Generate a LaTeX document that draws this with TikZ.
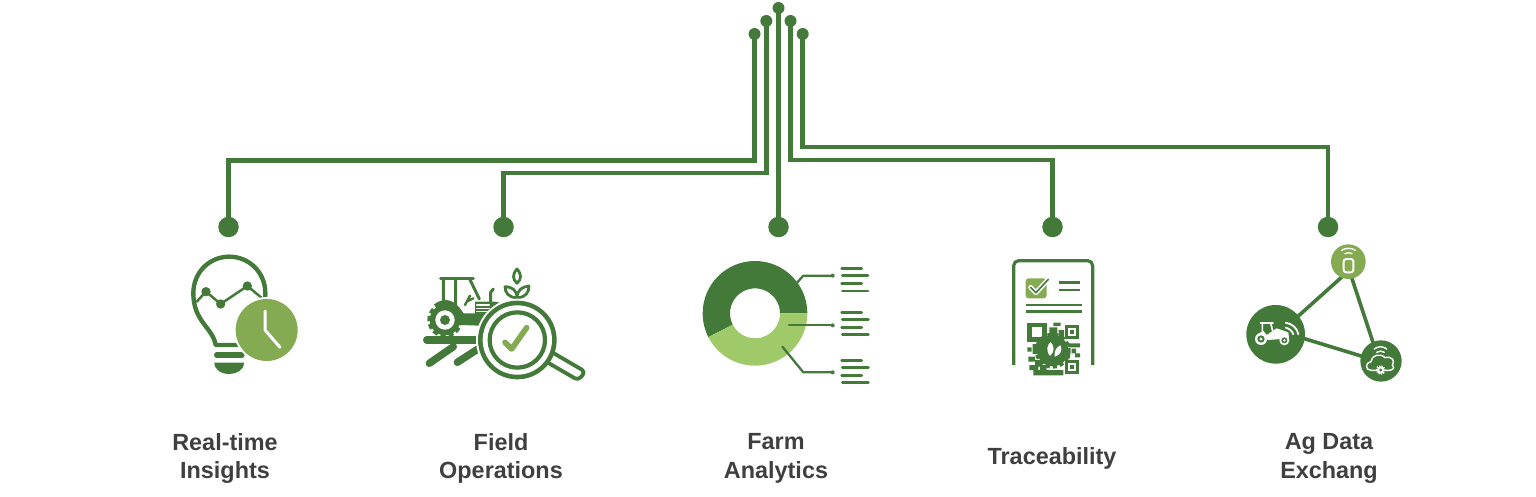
\documentclass[tikz,border=0pt]{standalone}
\usepackage{fontspec}
\setmainfont{Liberation Sans}
\definecolor{gd}{HTML}{437A3A}
\definecolor{gm}{HTML}{84AB52}
\definecolor{gl}{HTML}{A0C96A}
\definecolor{tx}{HTML}{3F3F3F}
\tikzset{
 wire/.style={draw=gd,line width=4.8pt},
 tdot/.style={circle,fill=gd,inner sep=0pt,minimum size=12pt},
 bdot/.style={circle,fill=gd,inner sep=0pt,minimum size=20.5pt},
 lab/.style={font=\bfseries\fontsize{23.4}{28.5}\selectfont,text=tx,align=center},
 zm/.style 2 args={shift={(#1,#2)},x=0.33333pt,y=-0.33333pt},
 ln/.style={draw=gd,line width=#1,line cap=round,line join=round},
 wl/.style={draw=white,line width=#1,line cap=round,line join=round},
}
\begin{document}
\begin{tikzpicture}[x=1pt,y=-1pt]
\useasboundingbox (0,0) rectangle (1536,497);
% hub dots and end dots
\node[tdot] (t1) at (754.5,34) {};
\node[tdot] (t2) at (766.3,21) {};
\node[tdot] (t3) at (778.5,8) {};
\node[tdot] (t4) at (790.5,21) {};
\node[tdot] (t5) at (802.7,34) {};
\node[bdot] (b1) at (228.5,227) {};
\node[bdot] (b2) at (503.5,227) {};
\node[bdot] (b3) at (778.5,227) {};
\node[bdot] (b4) at (1052.5,227) {};
\node[bdot] (b5) at (1328,227) {};
\coordinate (k1) at (754.5,160.5);
\coordinate (k2) at (766.3,173);
\coordinate (k4) at (790.5,160);
\coordinate (k5) at (802.7,147);
\draw[wire] (t1.center) -- (k1) -| (b1.center);
\draw[wire] (t2.center) -- (k2) -| (b2.center);
\draw[wire] (t3.center) -- (b3.center);
\draw[wire] (t4.center) -- (k4) -| (b4.center);
\draw[wire] (t5.center) -- (k5) -| (b5.center);
% labels
\node[lab] (l1) at (225,458.5) {Real-time\\Insights};
\node[lab] (l2) at (501,458.5) {Field\\Operations};
\node[lab] (l3) at (776,458.5) {Farm\\Analytics};
\node[lab] (l4) at (1052,458) {Traceability};
\node[lab] (l5) at (1329,458.5) {Ag Data\\Exchang};
% bulb
\begin{scope}[zm={170}{240}]
\draw[ln=4.4pt] (137,315) .. controls (128,262) and (70,245) .. (70,160) .. controls (70,95) and (120,50) .. (178,50) .. controls (235,50) and (286,95) .. (286,160) .. controls (286,245) and (228,262) .. (220,315) -- cycle;
\draw[ln=2.5pt] (80,185) -- (108,155) -- (152,192) -- (232,138) -- (285,182);
\fill[gd] (108,155) circle (14) (152,192) circle (14) (232,138) circle (14);
\draw[ln=5.4pt] (140,345) -- (216,345);
\fill[gd] (133,368) -- (222,368) .. controls (222,390) and (200,402) .. (178,402) .. controls (155,402) and (133,390) .. (133,368) -- cycle;
\fill[white] (290,270) circle (99);
\fill[gm] (290,270) circle (93);
\draw[wl=3pt] (285,213) -- (285,270) -- (330,322);
\end{scope}
% tractor and magnifier
\begin{scope}[zm={410}{255}]
\draw[ln=3pt] (92,70) -- (190,70);
\draw[ln=3pt] (100,70) -- (100,135) (137,70) -- (137,150) (178,70) -- (208,132);
\fill[gd] (70,150) .. controls (100,125) and (135,130) .. (160,175) -- (195,175) -- (195,140) -- (255,140) -- (300,150) -- (300,215) -- (150,210) -- (120,160) -- cycle;
\draw[ln=2.4pt] (165,150) -- (180,122) (170,140) -- (190,130);
\draw[wl=1.2pt] (200,150) -- (238,150) (200,160) -- (238,160) (200,170) -- (238,170);
\draw[ln=3pt] (242,140) -- (242,112) -- (250,102);
\draw[draw=gd,line width=4pt,dash pattern=on 5pt off 3pt] (105,195) circle (47);
\fill[gd] (105,195) circle (46);
\fill[white] (105,195) circle (29);
\fill[gd] (105,195) circle (15);
\draw[ln=7.4pt] (50,255) -- (205,255);
\draw[ln=7.4pt] (58,325) -- (130,275);
\draw[ln=7.4pt] (142,322) -- (210,278);
% plant
\draw[ln=2.8pt] (321,42) .. controls (335,58) and (335,72) .. (321,85) .. controls (307,72) and (307,58) .. (321,42) -- cycle;
\draw[ln=2.8pt] (321,128) .. controls (295,128) and (285,112) .. (285,95) .. controls (305,95) and (321,105) .. (321,128) .. controls (321,105) and (337,95) .. (357,93) .. controls (357,112) and (347,128) .. (321,128) -- cycle;
% lens halo, handle, lens
\fill[white] (322,255) circle (124);
\draw[draw=gd,line width=3.8pt,fill=white,line join=round,rounded corners=4pt] (418,287) -- (526,350) -- (505,376) -- (395,312) -- cycle;
\fill[gd] (322,255) circle (118);
\fill[white] (322,255) circle (104);
\draw[ln=4.2pt] (322,255) circle (83);
\draw[draw=gm,line width=5.6pt,line cap=round,line join=round] (285,262) -- (305,282) -- (350,218);
\end{scope}
% donut
\begin{scope}[zm={690}{250}]
\fill[gd] (195,190) ++(0:157) arc (0:-207:157) -- ++(-207:-82) arc (-207:0:75) -- cycle;
\fill[gl] (195,190) ++(0:157) arc (0:153:157) -- ++(153:-82) arc (153:0:75) -- cycle;
\draw[ln=2.3pt] (322,97) -- (340,77) -- (425,77);
\draw[ln=2.3pt] (297,226) -- (425,226);
\draw[ln=2.3pt] (277,290) -- (340,367) -- (425,367);
\fill[gd] (428,77) circle (6) (428,226) circle (6) (428,367) circle (6);
\draw[ln=2.8pt] (455,55) -- (515,55) (457,77) -- (534,77) (455,101) -- (515,101) (457,123) -- (534,123);
\draw[ln=2.8pt] (455,187) -- (515,187) (457,208) -- (535,208) (455,233) -- (515,233) (457,254) -- (535,254);
\draw[ln=2.8pt] (455,331) -- (515,331) (457,352) -- (535,352) (455,377) -- (515,377) (457,398) -- (535,398);
\end{scope}
% document
\begin{scope}[zm={1000}{250}]
\draw[draw=gd,line width=3.2pt,rounded corners=5pt] (41,345) -- (41,32) -- (278,32) -- (278,345);
\fill[gm,rounded corners=3pt] (77,85) rectangle (140,145);
\draw[wl=4.8pt] (92,112) -- (108,128) -- (145,88);
\draw[draw=gd,line width=1.6pt,line cap=round,line join=round] (92,112) -- (108,128) -- (145,88);
\draw[draw=gd,line width=2.8pt] (178,98) -- (240,98) (178,120) -- (240,120) (78,165) -- (247,165) (78,185) -- (247,185);
% QR
\fill[gd] (82,218) rectangle (140,275);
\fill[white] (96,232) rectangle (125,261);
\fill[gd] (195,224) rectangle (238,267);
\fill[white] (204,233) rectangle (229,258);
\fill[gd] (211,240) rectangle (222,251);
\fill[gd] (195,330) rectangle (238,373);
\fill[white] (204,339) rectangle (229,364);
\fill[gd] (211,346) rectangle (222,357);
\fill[gd] (148,232) rectangle (172,255) (160,218) rectangle (182,228) (176,240) rectangle (192,265);
\fill[gd] (82,292) rectangle (95,305) (98,282) rectangle (118,312) (85,320) rectangle (105,335) (88,345) rectangle (115,360) (105,330) rectangle (125,350) (100,360) rectangle (190,376) (120,345) rectangle (140,365);
\fill[gd] (203,280) rectangle (240,292) (215,296) rectangle (228,310) (195,296) rectangle (210,325) (225,310) rectangle (240,322);
\draw[draw=gd,line width=4pt,dash pattern=on 4pt off 3pt] (158,302) circle (48);
\fill[gd] (158,302) circle (47);
\fill[white] (150,318) .. controls (136,300) and (142,285) .. (152,276) .. controls (164,290) and (164,305) .. (150,318) -- cycle;
\fill[white] (164,320) .. controls (162,302) and (170,290) .. (182,286) .. controls (188,304) and (180,316) .. (164,320) -- cycle;
\end{scope}
% network
\begin{scope}[zm={1235}{235}]
\draw[ln=3.6pt] (190,243) -- (325,122) (350,128) -- (416,328) (205,310) -- (385,365);
\fill[gd] (122,298) circle (88);
\fill[gm] (340,80) circle (52);
\fill[gd] (438,378) circle (62);
% phone
\draw[wl=1.9pt,rounded corners=2.5pt] (326,72) rectangle (355,112);
\draw[wl=1.4pt] (330,56) .. controls (336,52) and (345,52) .. (351,56);
\draw[wl=1.4pt] (320,46) .. controls (332,38) and (349,38) .. (361,46);
% tractor
\draw[wl=1.6pt] (76,264) -- (114,264) (82,264) -- (82,295) (107,264) -- (114,292);
\fill[white] (66,298) -- (85,288) -- (95,300) -- (125,280) -- (160,292) -- (162,310) -- (100,315) -- cycle;
\fill[white] (78,312) circle (18) (148,316) circle (15);
\fill[gd] (78,312) circle (11) (148,316) circle (9);
\fill[white] (78,312) circle (5) (148,316) circle (4);
\draw[wl=1.8pt] (152,263) .. controls (172,266) and (187,280) .. (190,298);
\draw[wl=1.8pt] (152,278) .. controls (162,280) and (172,288) .. (175,298);
% cloud
\draw[wl=1.4pt] (425,406) -- (408,406) .. controls (390,406) and (390,382) .. (408,380) .. controls (408,362) and (435,352) .. (450,368) .. controls (470,362) and (482,378) .. (472,390) .. controls (482,400) and (470,406) .. (462,406) -- (450,406);
\draw[white,line width=1.8pt,dash pattern=on 1.2pt off 1.2pt] (437,405) circle (12);
\fill[white] (437,405) circle (11);
\fill[gd] (437,405) circle (5);
\draw[wl=1.4pt] (425,352) .. controls (432,347) and (441,347) .. (448,352);
\draw[wl=1.4pt] (418,342) .. controls (428,333) and (445,333) .. (455,342);
\end{scope}
\end{tikzpicture}
\end{document}
